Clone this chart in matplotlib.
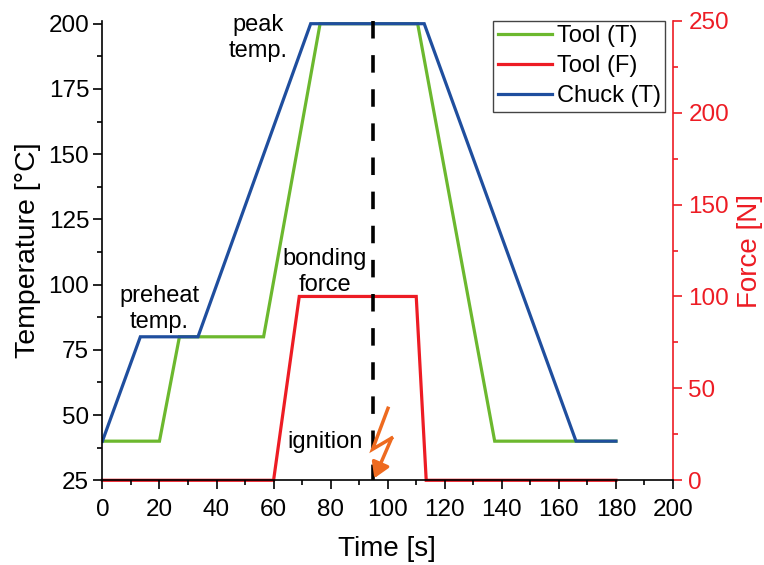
import matplotlib
matplotlib.use("Agg")
import matplotlib.pyplot as plt
from matplotlib.ticker import MultipleLocator

plt.rcParams["font.family"] = ["Liberation Sans", "DejaVu Sans"]

GREEN = "#6cb82e"
RED = "#ed1c24"
BLUE = "#1f4e9e"
ORANGE = "#ee6a1f"

tool_t_x = [0, 20, 27, 56.5, 76.3, 110.5, 137.5, 180]
tool_t_y = [40, 40, 80, 80, 200, 200, 40, 40]
chuck_t_x = [0, 13.3, 33.5, 73, 112.8, 166, 180]
chuck_t_y = [40, 80, 80, 200, 200, 40, 40]
tool_f_x = [0, 60, 69, 110, 113.5, 180]
tool_f_y = [0, 0, 100, 100, 0, 0]
ignition_x = [95, 95]
ignition_y = [201.15, 25]
bolt_x = [100.1, 94.7, 101.4]
bolt_y = [52.6, 36.9, 41.2]
bolt_tip = (95.3, 25.8)

fig, ax = plt.subplots(figsize=(7.64, 5.65), dpi=100)
fig.subplots_adjust(left=102.4 / 764, right=673 / 764, bottom=1 - 480.3 / 565, top=1 - 20.7 / 565)
ax2 = ax.twinx()
ax.set_zorder(2)
ax.patch.set_visible(False)

l1, = ax.plot(tool_t_x, tool_t_y, color=GREEN, lw=2.3, solid_joinstyle="miter", label="Tool (T)")
l3, = ax.plot(chuck_t_x, chuck_t_y, color=BLUE, lw=2.3, solid_joinstyle="miter", label="Chuck (T)")
l2, = ax2.plot(tool_f_x, tool_f_y, color=RED, lw=2.3, solid_joinstyle="miter", label="Tool (F)", clip_on=False)

# about 17.5 px on / 16.6 px off, starting at the top of the axis
ax.plot(ignition_x, ignition_y, color="black", lw=2.6, linestyle=(0, (4.85, 4.6)), dash_capstyle="butt")

ax.plot(bolt_x, bolt_y, color=ORANGE, lw=2.5, solid_joinstyle="miter")
ax.annotate("", xy=bolt_tip, xytext=(bolt_x[-1], bolt_y[-1]),
            arrowprops=dict(arrowstyle="-|>,head_length=0.9,head_width=0.55", color=ORANGE, lw=2.5,
                            shrinkA=0, shrinkB=0))

ax.set_xlim(0, 200)
ax.set_ylim(25, 201.15)
ax2.set_ylim(0, 250)

ax.xaxis.set_major_locator(MultipleLocator(20))
ax.xaxis.set_minor_locator(MultipleLocator(10))
ax.set_yticks([25, 50, 75, 100, 125, 150, 175, 200])
ax.yaxis.set_minor_locator(MultipleLocator(12.5))
ax2.yaxis.set_major_locator(MultipleLocator(50))
ax2.yaxis.set_minor_locator(MultipleLocator(25))

for s in ["top", "right"]:
    ax.spines[s].set_visible(False)
for s in ["top", "left", "bottom"]:
    ax2.spines[s].set_visible(False)
ax.spines["left"].set_linewidth(1.2)
ax.spines["bottom"].set_linewidth(1.2)
ax2.spines["right"].set_linewidth(1.2)
ax2.spines["right"].set_color(RED)

ax.tick_params(axis="y", which="major", length=6.5, width=1.2, labelsize=17.5, pad=3)
ax.tick_params(axis="x", which="major", length=6.5, width=1.2, labelsize=17.5, pad=7)
ax.tick_params(axis="both", which="minor", length=3.5, width=1.2)
ax2.tick_params(axis="y", which="major", length=6.5, width=1.2, labelsize=17.5, pad=4.5, colors=RED)
ax2.tick_params(axis="y", which="minor", length=3.5, width=1.2, colors=RED)

ax.set_xlabel("Time [s]", fontsize=20)
ax.xaxis.set_label_coords((387 - 102.4) / 570.6, -(549 - 480.3) / 459.6, transform=ax.transAxes)
ax.xaxis.label.set_va("center")
ax.set_ylabel("Temperature [°C]", fontsize=20.5)
ax.yaxis.set_label_coords((28 - 102.4) / 570.6, 0.5)
ax.yaxis.label.set_va("center")
ax2.set_ylabel("Force [N]", fontsize=20, color=RED, rotation=90)
ax2.yaxis.set_label_coords((750 - 102.4) / 570.6, 0.5)
ax2.yaxis.label.set_va("center")

ax.text(54.5, 194.5, "peak\ntemp.", fontsize=17, ha="center", va="center", linespacing=1.25)
ax.text(20, 90.6, "preheat\ntemp.", fontsize=17, ha="center", va="center", linespacing=1.25)
ax.text(78, 104.8, "bonding\nforce", fontsize=17, ha="center", va="center", linespacing=1.25)
ax.text(78, 39.6, "ignition", fontsize=17, ha="center", va="center")

leg = ax.legend(handles=[l1, l2, l3], loc="upper left",
                bbox_to_anchor=((493 - 102.4) / 570.6, 1.0), fontsize=17,
                frameon=True, fancybox=False, framealpha=1, edgecolor="#444444",
                borderpad=0.2, labelspacing=0.33, handlelength=2.3, handletextpad=0.2,
                borderaxespad=0)
leg.get_frame().set_linewidth(1.0)

fig.savefig("out.png", dpi=100)
